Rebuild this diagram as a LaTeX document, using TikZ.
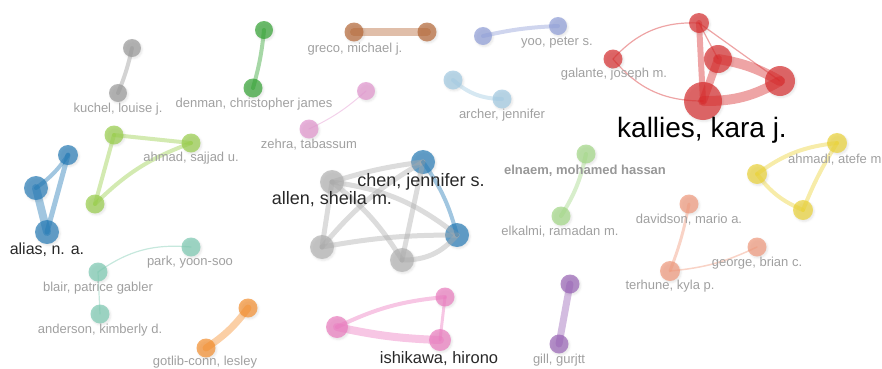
\documentclass[tikz,border=0pt]{standalone}
\usepackage{fontspec}
\setmainfont{Liberation Sans}
\usepackage{xcolor}
\usepackage{tikz}
\usetikzlibrary{shadows.blur}

\begin{document}
\begin{tikzpicture}[x=1pt, y=-1pt]

  % Define Colors
  \definecolor{vred}{RGB}{214,39,40}
  \definecolor{vblue}{RGB}{31,119,180}
  \definecolor{vgreen}{RGB}{44,160,44}
  \definecolor{vlime}{RGB}{150,205,70}
  \definecolor{vlgreen}{RGB}{160,215,130}
  \definecolor{vgray}{RGB}{150,150,150}
  \definecolor{vbrown}{RGB}{180,100,50}
  \definecolor{vlav}{RGB}{140,155,215}
  \definecolor{vlblue}{RGB}{158,200,225}
  \definecolor{vpink}{RGB}{225,145,205}
  \definecolor{vyellow}{RGB}{235,210,50}
  \definecolor{vsalmon}{RGB}{240,150,120}
  \definecolor{vteal}{RGB}{120,200,175}
  \definecolor{vorange}{RGB}{245,140,40}
  \definecolor{vmagenta}{RGB}{235,120,190}
  \definecolor{vpurple}{RGB}{150,95,180}
  \definecolor{labgray}{RGB}{160,160,160}
  \definecolor{labdark}{RGB}{40,40,40}

  % Node styles
  \tikzstyle{vnode}=[circle, inner sep=0pt, fill opacity=0.68,
    blur shadow={shadow xshift=1.2pt, shadow yshift=-1.5pt, shadow blur steps=4, shadow opacity=15}]
  \tikzstyle{cred}=[vnode, fill=vred]
  \tikzstyle{cblue}=[vnode, fill=vblue]
  \tikzstyle{cgreen}=[vnode, fill=vgreen]
  \tikzstyle{clime}=[vnode, fill=vlime]
  \tikzstyle{clgreen}=[vnode, fill=vlgreen]
  \tikzstyle{cgray}=[vnode, fill=vgray]
  \tikzstyle{cbrown}=[vnode, fill=vbrown]
  \tikzstyle{clav}=[vnode, fill=vlav]
  \tikzstyle{clblue}=[vnode, fill=vlblue]
  \tikzstyle{cpink}=[vnode, fill=vpink]
  \tikzstyle{cyellow}=[vnode, fill=vyellow]
  \tikzstyle{csalmon}=[vnode, fill=vsalmon]
  \tikzstyle{cteal}=[vnode, fill=vteal]
  \tikzstyle{corange}=[vnode, fill=vorange]
  \tikzstyle{cmagenta}=[vnode, fill=vmagenta]
  \tikzstyle{cpurple}=[vnode, fill=vpurple]

  \tikzstyle{lbl}=[anchor=base, inner sep=0pt, text=labgray, font=\fontsize{13}{15}\selectfont]
  \tikzstyle{lbold}=[lbl, text=labgray!95!black, font=\fontsize{13}{15}\selectfont\bfseries]
  \tikzstyle{lbig}=[anchor=base, inner sep=0pt, text=labdark, font=\fontsize{18}{20}\selectfont]

  \tikzstyle{v_path}=[line cap=round, opacity=0.42, line width=4pt]

  \useasboundingbox (0,0) rectangle (882,368);

  % Nodes
  \node[cgray, minimum size=18pt] (n_kuchel_a) at (132,48) {};
  \node[cgray, minimum size=18pt] (n_kuchel) at (118,93) {};

  \node[cgreen, minimum size=18pt] (n_denman_a) at (264,30) {};
  \node[cgreen, minimum size=19pt] (n_denman) at (253,88) {};

  \node[cbrown, minimum size=19pt] (n_greco) at (354,32) {};
  \node[cbrown, minimum size=19pt] (n_greco_b) at (427,32) {};

  \node[clav, minimum size=18pt] (n_yoo_a) at (483,36) {};
  \node[clav, minimum size=18pt] (n_yoo) at (558,26) {};

  \node[cpink, minimum size=18pt] (n_zehra_a) at (366,91) {};
  \node[cpink, minimum size=19pt] (n_zehra) at (309,129) {};

  \node[clblue, minimum size=19pt] (n_archer_a) at (453,80) {};
  \node[clblue, minimum size=19pt] (n_archer) at (502,99) {};

  \node[cred, minimum size=19pt] (n_galante) at (613,59) {};
  \node[cred, minimum size=20pt] (n_rtop) at (699,23) {};
  \node[cred, minimum size=28pt] (n_rmid) at (718,59) {};
  \node[cred, minimum size=30pt] (n_rright) at (780,81) {};
  \node[cred, minimum size=38pt] (n_kallies) at (703,101) {};

  \node[clime, minimum size=19pt] (n_lime_a) at (114,135) {};
  \node[clime, minimum size=19pt] (n_ahmad) at (191,143) {};
  \node[clime, minimum size=19pt] (n_lime_c) at (95,204) {};

  \node[cblue, minimum size=20pt] (n_alias_a) at (68,155) {};
  \node[cblue, minimum size=24pt] (n_alias_b) at (36,188) {};
  \node[cblue, minimum size=24pt] (n_alias) at (47,232) {};

  \node[cgray, fill=vgray!75, minimum size=24pt] (n_allen) at (332,182) {};
  \node[cgray, fill=vgray!75, minimum size=24pt] (n_gray_b) at (322,247) {};
  \node[cgray, fill=vgray!75, minimum size=24pt] (n_gray_c) at (402,260) {};
  \node[cblue, minimum size=24pt] (n_chen) at (423,162) {};
  \node[cblue, minimum size=24pt] (n_blue_d) at (457,235) {};

  \node[clgreen, minimum size=19pt] (n_elnaem) at (586,154) {};
  \node[clgreen, minimum size=19pt] (n_elkalmi) at (561,216) {};

  \node[cyellow, minimum size=20pt] (n_ahmadi) at (837,143) {};
  \node[cyellow, minimum size=20pt] (n_yel_b) at (757,174) {};
  \node[cyellow, minimum size=20pt] (n_yel_c) at (803,210) {};

  \node[csalmon, minimum size=19pt] (n_davidson) at (689,204) {};
  \node[csalmon, minimum size=20pt] (n_terhune) at (670,271) {};
  \node[csalmon, minimum size=19pt] (n_george) at (757,247) {};

  \node[cteal, minimum size=19pt] (n_park) at (191,247) {};
  \node[cteal, minimum size=19pt] (n_blair) at (98,272) {};
  \node[cteal, minimum size=19pt] (n_anderson) at (100,314) {};

  \node[corange, minimum size=19pt] (n_gotlib_a) at (248,308) {};
  \node[corange, minimum size=19pt] (n_gotlib) at (206,348) {};

  \node[cmagenta, minimum size=22pt] (n_ish_a) at (337,327) {};
  \node[cmagenta, minimum size=19pt] (n_ish_b) at (445,297) {};
  \node[cmagenta, minimum size=22pt] (n_ishikawa) at (440,340) {};

  \node[cpurple, minimum size=19pt] (n_gill_a) at (570,284) {};
  \node[cpurple, minimum size=19pt] (n_gill) at (559,344) {};

  % Links
  \draw[v_path, vgray] (n_kuchel_a.center) to[bend left=5] (n_kuchel.center);
  \draw[v_path, vgreen] (n_denman_a.center) to[bend left=5] (n_denman.center);
  \draw[v_path, vbrown, line width=8pt] (n_greco.center) -- (n_greco_b.center);
  \draw[v_path, vlav] (n_yoo_a.center) to[bend left=5] (n_yoo.center);
  \draw[v_path, vpink, line width=1pt] (n_zehra_a.center) to[bend left=8] (n_zehra.center);
  \draw[v_path, vlblue] (n_archer_a.center) to[bend right=20] (n_archer.center);

  % red links
  \draw[v_path, vred, line width=1.2pt] (n_galante.center) to[bend left=25] (n_rtop.center);
  \draw[v_path, vred, line width=1.2pt] (n_galante.center) to[bend right=25] (n_kallies.center);
  \draw[v_path, vred, line width=6pt] (n_rtop.center) -- (n_kallies.center);
  \draw[v_path, vred, line width=1.2pt] (n_rtop.center) -- (n_rmid.center);
  \draw[v_path, vred, line width=1.2pt] (n_rtop.center) -- (n_rright.center);
  \draw[v_path, vred, line width=8pt] (n_rmid.center) -- (n_kallies.center);
  \draw[v_path, vred, line width=10pt] (n_rmid.center) to[bend left=10] (n_rright.center);
  \draw[v_path, vred, line width=10pt] (n_kallies.center) to[bend right=15] (n_rright.center);

  % lime and blue links
  \draw[v_path, vlime] (n_lime_a.center) -- (n_ahmad.center);
  \draw[v_path, vlime] (n_lime_a.center) -- (n_lime_c.center);
  \draw[v_path, vlime] (n_lime_c.center) to[bend left=12] (n_ahmad.center);
  \draw[v_path, vblue] (n_alias_a.center) to[bend left=10] (n_alias_b.center);
  \draw[v_path, vblue, line width=8pt] (n_alias_b.center) -- (n_alias.center);
  \draw[v_path, vblue, line width=5pt] (n_alias_a.center) -- (n_alias.center);

  % center links
  \draw[v_path, vgray!80, line width=5pt] (n_allen.center) to[bend left=5] (n_chen.center);
  \draw[v_path, vgray!80, line width=5pt] (n_allen.center) -- (n_gray_b.center);
  \draw[v_path, vgray!80, line width=5pt] (n_allen.center) to[bend left=10] (n_gray_c.center);
  \draw[v_path, vgray!80, line width=5pt] (n_allen.center) to[bend left=15] (n_blue_d.center);
  \draw[v_path, vgray!80, line width=5pt] (n_gray_b.center) to[bend left=10] (n_chen.center);
  \draw[v_path, vgray!80, line width=5pt] (n_gray_b.center) to[bend left=5] (n_blue_d.center);
  \draw[v_path, vgray!80, line width=5pt] (n_gray_c.center) -- (n_chen.center);
  \draw[v_path, vgray!80, line width=5pt] (n_gray_c.center) to[bend right=25] (n_blue_d.center);
  \draw[v_path, vblue] (n_chen.center) to[bend left=10] (n_blue_d.center);

  % right side links
  \draw[v_path, vlgreen] (n_elnaem.center) to[bend left=10] (n_elkalmi.center);
  \draw[v_path, vyellow] (n_ahmadi.center) to[bend right=15] (n_yel_b.center);
  \draw[v_path, vyellow] (n_yel_b.center) to[bend right=15] (n_yel_c.center);
  \draw[v_path, vyellow] (n_ahmadi.center) to[bend right=5] (n_yel_c.center);
  \draw[v_path, vsalmon, line width=3pt] (n_davidson.center) to[bend left=5] (n_terhune.center);
  \draw[v_path, vsalmon, line width=1.5pt] (n_terhune.center) to[bend right=10] (n_george.center);

  % bottom links
  \draw[v_path, vteal, line width=1.2pt] (n_blair.center) to[bend left=20] (n_park.center);
  \draw[v_path, vteal, line width=1.2pt] (n_blair.center) -- (n_anderson.center);
  \draw[v_path, vorange, line width=7pt] (n_gotlib_a.center) to[bend left=10] (n_gotlib.center);
  \draw[v_path, vmagenta] (n_ish_a.center) to[bend left=10] (n_ish_b.center);
  \draw[v_path, vmagenta, line width=8pt] (n_ish_a.center) to[bend right=5] (n_ishikawa.center);
  \draw[v_path, vmagenta, line width=3pt] (n_ish_b.center) -- (n_ishikawa.center);
  \draw[v_path, vpurple, line width=7pt] (n_gill_a.center) -- (n_gill.center);

  % Labels
  \node[lbl] (t_kuchel) at (118,112) {kuchel, louise j.};
  \node[lbl] (t_denman) at (254,107) {denman, christopher james};
  \node[lbl] (t_greco) at (355,52) {greco, michael j.};
  \node[lbl] (t_yoo) at (557,45) {yoo, peter s.};
  \node[lbl] (t_archer) at (502,118) {archer, jennifer};
  \node[lbl] (t_zehra) at (309,148) {zehra, tabassum};
  \node[lbl] (t_galante) at (614,77) {galante, joseph m.};
  \node[lbl] (t_ahmad) at (191,161) {ahmad, sajjad u.};
  \node[lbl, anchor=base west] (t_ahmadi) at (788,163) {ahmadi, atefe m};
  \node[lbold] (t_elnaem) at (585,174) {elnaem, mohamed hassan};
  \node[lbl] (t_elkalmi) at (560,235) {elkalmi, ramadan m.};
  \node[lbl] (t_davidson) at (689,223) {davidson, mario a.};
  \node[lbl] (t_george) at (757,266) {george, brian c.};
  \node[lbl] (t_terhune) at (670,289) {terhune, kyla p.};
  \node[lbl] (t_park) at (190,265) {park, yoon-soo};
  \node[lbl] (t_blair) at (98,291) {blair, patrice gabler};
  \node[lbl] (t_anderson) at (100,333) {anderson, kimberly d.};
  \node[lbl] (t_gotlib) at (205,365) {gotlib-conn, lesley};
  \node[lbl] (t_gill) at (559,363) {gill, gurjtt};

  \node[lbig, text=black, font=\fontsize{28}{30}\selectfont] (t_kallies) at (702,137) {kallies, kara j.};
  \node[lbig] (t_chen) at (421,186) {chen, jennifer s.};
  \node[lbig] (t_allen) at (332,204) {allen, sheila m.};
  \node[lbig, font=\fontsize{16}{18}\selectfont] (t_alias) at (47,254) {alias, n. a.};
  \node[lbig, font=\fontsize{16.5}{18}\selectfont] (t_ishikawa) at (439,363) {ishikawa, hirono};

\end{tikzpicture}
\end{document}
